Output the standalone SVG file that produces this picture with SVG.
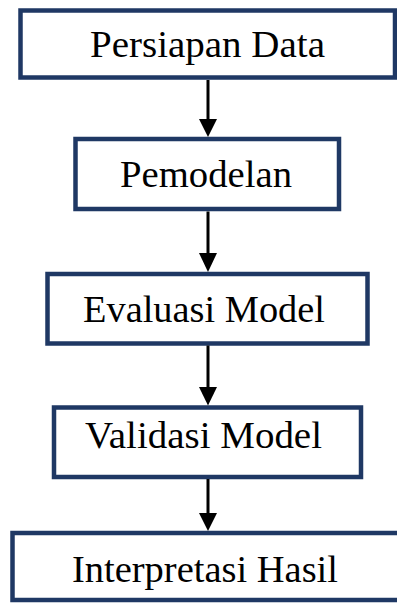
<svg xmlns="http://www.w3.org/2000/svg" width="397" height="603" viewBox="0 0 397 603">
<style>
.box{fill:#ffffff;stroke:#1f3864;stroke-width:4.5}
.lbl{font-family:"Liberation Serif","Times New Roman",serif;font-size:37px;fill:#000000}
.con{stroke:#000000;stroke-width:3;fill:none}
.head{fill:#000000}
</style>
<rect width="397" height="603" fill="#ffffff"/>
<g id="n1"><rect class="box" x="20.5" y="10.5" width="374.5" height="67"/><text class="lbl" x="90" y="57" textLength="235" lengthAdjust="spacingAndGlyphs">Persiapan Data</text></g>
<g id="n2"><rect class="box" x="75.5" y="139" width="263.5" height="70"/><text class="lbl" x="120" y="187" textLength="172" lengthAdjust="spacingAndGlyphs">Pemodelan</text></g>
<g id="n3"><rect class="box" x="47.5" y="274" width="320" height="69.5"/><text class="lbl" x="83" y="322" textLength="242" lengthAdjust="spacingAndGlyphs">Evaluasi Model</text></g>
<g id="n4"><rect class="box" x="54" y="407.5" width="307" height="69.5"/><text class="lbl" x="85" y="448" textLength="237" lengthAdjust="spacingAndGlyphs">Validasi Model</text></g>
<g id="n5"><rect class="box" x="12.5" y="533" width="400" height="67"/><text class="lbl" x="72" y="582" textLength="266" lengthAdjust="spacingAndGlyphs">Interpretasi Hasil</text></g>
<g id="connectors">
<path d="M208,80 V120" class="con"/><path class="head" d="M199,119 H217 L208,137 Z"/>
<path d="M208,211.5 V254" class="con"/><path class="head" d="M199,253 H217 L208,272 Z"/>
<path d="M208,345.5 V388" class="con"/><path class="head" d="M199,387 H217 L208,405.5 Z"/>
<path d="M208,479 V514" class="con"/><path class="head" d="M199,513 H217 L208,531 Z"/>
</g>
</svg>
